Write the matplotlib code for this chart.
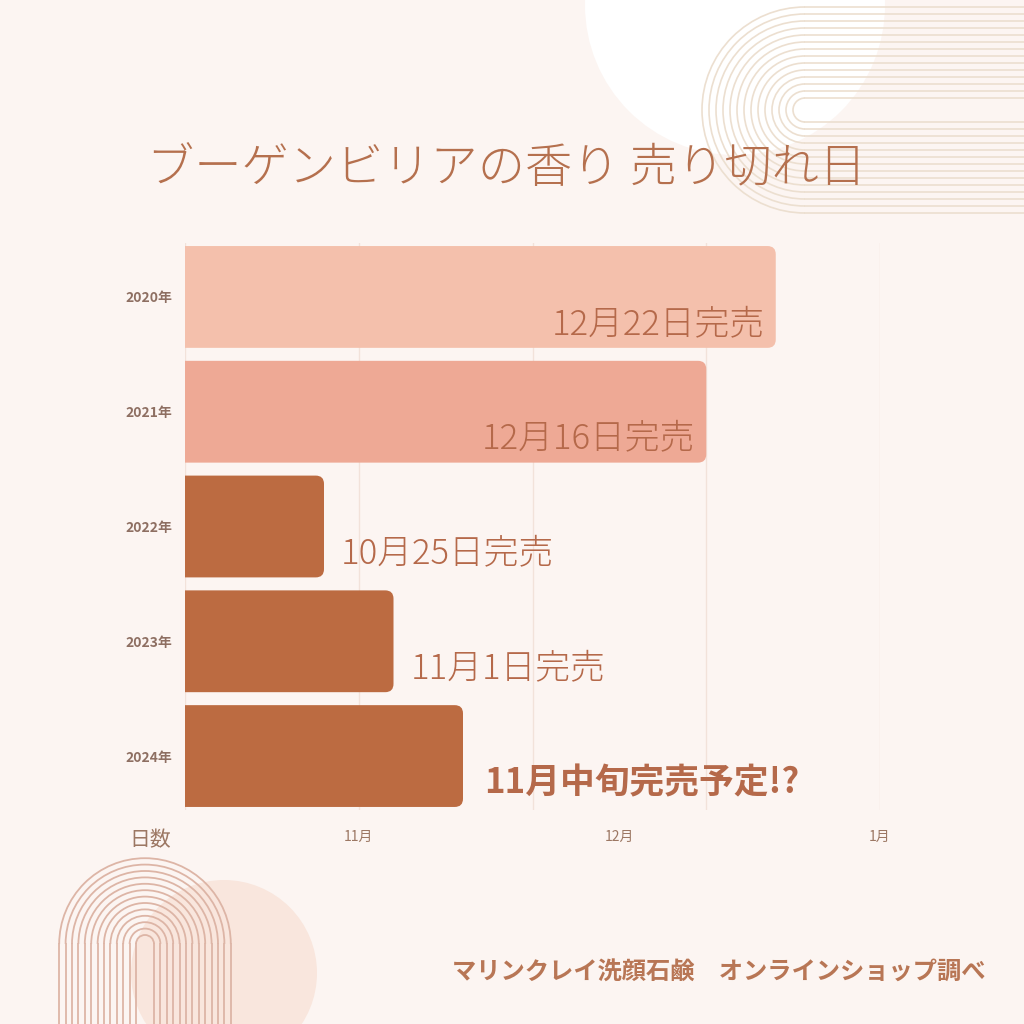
import matplotlib
matplotlib.use("Agg")
import matplotlib.pyplot as plt
from matplotlib.patches import Circle, PathPatch, Arc
from matplotlib.path import Path
import numpy as np

plt.rcParams['font.family'] = ['Noto Sans CJK JP', 'DejaVu Sans']

# data
years = ["2020年", "2021年", "2022年", "2023年", "2024年"]
days = [68, 60, 16, 24, 32]
labels = ["12月22日完売", "12月16日完売", "10月25日完売", "11月1日完売", "11月中旬完売予定!?"]
bar_colors = ["#F4C0AC", "#EEA995", "#BC6B41", "#BC6B41", "#BC6B41"]
label_bold = [False, False, False, False, True]
grid_x = [20, 40, 60, 80]
month_ticks = [20, 50, 80]
month_labels = ["11月", "12月", "1月"]

BG = "#FCF5F2"
TXT = "#B5694A"


def right_rounded(x0, y0, w, h, rx, ry):
    # bar outline with the two right corners rounded
    x1, y1 = x0 + w, y0 + h
    verts = [(x0, y0), (x1 - rx, y0), (x1, y0), (x1, y0 + ry),
             (x1, y1 - ry), (x1, y1), (x1 - rx, y1), (x0, y1), (x0, y0)]
    codes = [Path.MOVETO, Path.LINETO, Path.CURVE3, Path.CURVE3,
             Path.LINETO, Path.CURVE3, Path.CURVE3, Path.LINETO, Path.CLOSEPOLY]
    return Path(verts, codes)


fig = plt.figure(figsize=(10.24, 10.24), dpi=100)
fig.patch.set_facecolor(BG)

# background decorations in pixel coords
bg = fig.add_axes([0, 0, 1, 1], zorder=0)
bg.set_xlim(0, 1024)
bg.set_ylim(1024, 0)
bg.axis("off")

bg.add_patch(Circle((735, 5), 150, color="white", lw=0))
bg.add_patch(Circle((224, 973), 93, color="#F9E6DD", lw=0))

# top-right arches (open to the right)
for r in np.arange(12, 108, 7):
    bg.add_patch(Arc((805, 110), 2 * r, 2 * r, theta1=90, theta2=270,
                     color="#ECDFD0", lw=1.2))
    bg.plot([805, 1024], [110 - r, 110 - r], color="#ECDFD0", lw=1.2)
    bg.plot([805, 1024], [110 + r, 110 + r], color="#ECDFD0", lw=1.2)

# bottom-left arches (open downward)
for r in np.arange(9, 86, 6.4):
    bg.add_patch(Arc((145, 944), 2 * r, 2 * r, theta1=180, theta2=360,
                     color="#DDB5A6", lw=1.3))
    bg.plot([145 - r, 145 - r], [944, 1024], color="#DDB5A6", lw=1.3)
    bg.plot([145 + r, 145 + r], [944, 1024], color="#DDB5A6", lw=1.3)

# main chart
ax = fig.add_axes([185 / 1024, 1 - 810 / 1024, 695 / 1024, 567 / 1024], zorder=1)
ax.set_facecolor("none")
ax.set_xlim(0, 80)
ax.set_ylim(4.47, -0.47)

for gx in [0] + grid_x:
    ax.axvline(gx, color="#F2E2DA", lw=1, zorder=0)

y = np.arange(len(years))
h = 0.887
bars = ax.barh(y, days, height=h, color="none")
for b, c in zip(bars, bar_colors):
    p = right_rounded(b.get_x(), b.get_y(), b.get_width(), b.get_height(), 0.95, 0.072)
    ax.add_patch(PathPatch(p, fc=c, ec="none", zorder=2))

for i, (v, lab, bold) in enumerate(zip(days, labels, label_bold)):
    if v > 40:
        ax.annotate(lab, (v, i), xytext=(-11, -27), textcoords="offset pixels",
                    ha="right", va="center", fontsize=25, color=TXT,
                    fontweight="light", zorder=3)
    else:
        ax.annotate(lab, (v, i), xytext=(21 if bold else 17, -27),
                    textcoords="offset pixels", ha="left", va="center",
                    fontsize=25, color=TXT,
                    fontweight="bold" if bold else "light", zorder=3)

ax.set_yticks(y)
ax.set_yticklabels(years, fontsize=10, fontweight="bold", color="#8E6F62")
ax.set_xticks(month_ticks)
ax.set_xticklabels(month_labels, fontsize=10, color="#9C7763")
ax.tick_params(axis="both", length=0)
ax.tick_params(axis="y", pad=9)
ax.tick_params(axis="x", pad=14)
for s in ax.spines.values():
    s.set_visible(False)

fig.text(150 / 1024, 1 - 840 / 1024, "日数", ha="center", va="center",
         fontsize=15, color="#9C7763")
fig.text(507 / 1024, 1 - 168 / 1024, "ブーゲンビリアの香り 売り切れ日",
         ha="center", va="center", fontsize=34, color="#B5704E", fontweight="light")
fig.text(985 / 1024, 1 - 972 / 1024, "マリンクレイ洗顔石鹸　オンラインショップ調べ",
         ha="right", va="center", fontsize=17.5, color="#B87655", fontweight="bold")

fig.savefig("out.png", dpi=100, facecolor=BG)
